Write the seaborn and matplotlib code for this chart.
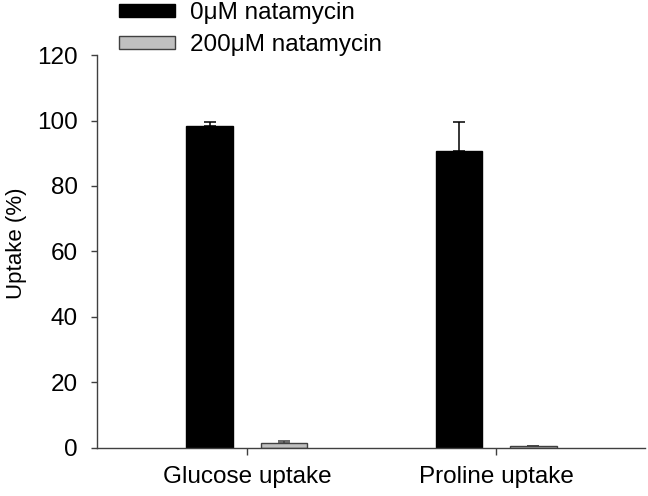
import matplotlib.pyplot as plt
import seaborn as sns
import numpy as np
import pandas as pd

# values
categories = ["Glucose uptake", "Proline uptake"]
treatments = ["0\u03bcM natamycin", "200\u03bcM natamycin"]
uptake_0 = [98.3, 90.7]
uptake_200 = [1.5, 0.5]
err_0 = [1.3, 8.9]
err_200 = [0.6, 0.2]

df = pd.DataFrame({
    "category": categories * 2,
    "treatment": [treatments[0]] * 2 + [treatments[1]] * 2,
    "uptake": uptake_0 + uptake_200,
})
errs = [err_0, err_200]

sns.set_style("ticks")
plt.rcParams['font.family'] = ['Liberation Sans', 'DejaVu Sans']
plt.rcParams['text.color'] = 'black'
plt.rcParams['axes.labelcolor'] = 'black'

fig = plt.figure(figsize=(6.48, 4.96), dpi=100)
ax = fig.add_axes([0.1497, 0.0968, 0.8457, 0.7923])

sns.barplot(data=df, x="category", y="uptake", hue="treatment",
            hue_order=treatments, order=categories,
            palette=["black", "#c0c0c0"], errorbar=None,
            width=0.6, gap=0.38, legend=False, ax=ax)

edge_cols = ["black", "#404040"]
for cont, e, ec in zip(ax.containers, errs, edge_cols):
    xs = [p.get_x() + p.get_width() / 2 for p in cont.patches]
    ys = [p.get_height() for p in cont.patches]
    for p in cont.patches:
        p.set_edgecolor(ec)
        p.set_linewidth(1.0)
    ax.errorbar(xs, ys, yerr=[np.zeros(len(e)), e], fmt="none",
                ecolor=ec, elinewidth=1.1, capsize=4.3, capthick=1.1)

ax.set_xlim(-0.602, 1.598)
ax.set_ylim(0, 120)
ax.set_yticks(np.arange(0, 121, 20))
ax.set_xlabel("")
ax.set_ylabel("Uptake (%)", fontsize=16, color="black")
ax.yaxis.set_label_coords(-0.128, 0.52)

sns.despine(ax=ax)
for s in ["left", "bottom"]:
    ax.spines[s].set_color("#404040")
    ax.spines[s].set_linewidth(1.0)
ax.tick_params(axis="y", length=4, width=1, color="#404040", pad=10,
               labelsize=17.5, labelcolor="black")
ax.tick_params(axis="x", length=5, width=1, color="#404040", pad=8,
               labelsize=17.5, labelcolor="black")

ax.legend(handles=list(ax.containers), labels=treatments,
          loc="upper left", bbox_to_anchor=(117 / 648, 1.0),
          bbox_transform=fig.transFigure, frameon=False, fontsize=17.5,
          borderpad=0, borderaxespad=0.1, handlelength=2.3, handleheight=0.47,
          handletextpad=0.6, labelspacing=0.4)

plt.savefig("out.png", dpi=100)
